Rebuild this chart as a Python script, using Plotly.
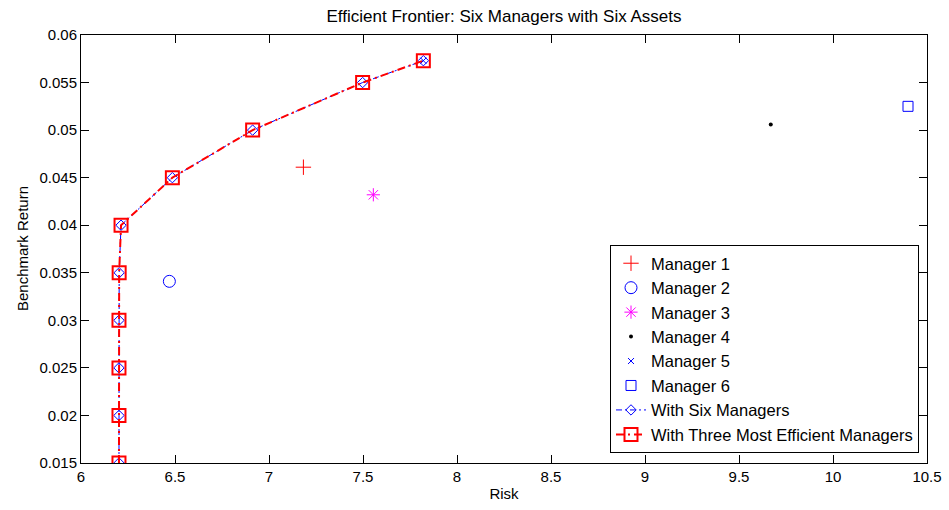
import plotly.graph_objects as go

# Individual managers: (risk, benchmark return)
manager_names = ["Manager 1", "Manager 2", "Manager 3", "Manager 4", "Manager 5", "Manager 6"]
manager_risk = [7.183, 6.470, 7.555, 9.669, 7.821, 10.399]
manager_return = [0.0461, 0.0341, 0.0432, 0.0506, 0.0573, 0.0525]

# Efficient frontier built from all six managers
six_risk = [6.202, 6.202, 6.202, 6.202, 6.203, 6.213, 6.486, 6.913, 7.498, 7.821]
six_return = [0.015, 0.020, 0.025, 0.030, 0.035, 0.040, 0.045, 0.050, 0.055, 0.0573]

# Efficient frontier built from the three most efficient managers
three_risk = [6.202, 6.202, 6.202, 6.202, 6.203, 6.213, 6.486, 6.913, 7.498, 7.821]
three_return = [0.015, 0.020, 0.025, 0.030, 0.035, 0.040, 0.045, 0.050, 0.055, 0.0573]

x_ticks = [6, 6.5, 7, 7.5, 8, 8.5, 9, 9.5, 10, 10.5]
y_ticks = [0.015, 0.02, 0.025, 0.03, 0.035, 0.04, 0.045, 0.05, 0.055, 0.06]

manager_styles = [
    dict(symbol="cross-thin-open", size=11, color="#ff0000", line=dict(width=1, color="#ff0000")),
    dict(symbol="circle-open", size=12, color="#0000ff", line=dict(width=1, color="#0000ff")),
    dict(symbol="asterisk-open", size=11, color="#ff00ff", line=dict(width=1, color="#ff00ff")),
    dict(symbol="circle", size=4, color="#000000", line=dict(width=0)),
    dict(symbol="x-thin-open", size=6, color="#0000ff", line=dict(width=1, color="#0000ff")),
    dict(symbol="square-open", size=10, color="#0000ff", line=dict(width=1, color="#0000ff")),
]

fig = go.Figure()

for i, name in enumerate(manager_names):
    fig.add_trace(go.Scatter(
        x=[manager_risk[i]], y=[manager_return[i]], mode="markers", name=name,
        marker=manager_styles[i], legendgroup=name,
    ))

fig.add_trace(go.Scatter(
    x=six_risk, y=six_return, mode="lines+markers", name="With Six Managers",
    line=dict(color="#0000ff", width=1, dash="6px,3px,2px,3px"),
    marker=dict(symbol="diamond-open", size=8, color="#0000ff", line=dict(width=1, color="#0000ff")),
    legendgroup="six",
))

fig.add_trace(go.Scatter(
    x=three_risk, y=three_return, mode="lines+markers", name="With Three Most Efficient Managers",
    line=dict(color="#ff0000", width=2, dash="8px,4px,2px,4px"),
    marker=dict(symbol="square-open", size=13, color="#ff0000", line=dict(width=2, color="#ff0000")),
    legendgroup="three",
))

font = "Liberation Sans, Arial, Helvetica, sans-serif"
plot_left, plot_right, plot_top, plot_bottom = 81, 927, 35, 463
plot_w = plot_right - plot_left
plot_h = plot_bottom - plot_top

fig.update_layout(
    width=949, height=510,
    margin=dict(l=plot_left, r=949 - plot_right, t=plot_top, b=510 - plot_bottom, autoexpand=False),
    paper_bgcolor="white", plot_bgcolor="white",
    font=dict(family=font, size=15, color="black"),
    title=dict(text="Efficient Frontier: Six Managers with Six Assets", x=0.5, xref="paper",
               xanchor="center", y=1 - 16 / 510, yanchor="middle", font=dict(size=17)),
    showlegend=True,
    legend=dict(x=(919 - plot_left) / plot_w, y=(plot_bottom - 453) / plot_h,
                xanchor="right", yanchor="bottom",
                bgcolor="white", bordercolor="black", borderwidth=1,
                font=dict(size=16.5), tracegroupgap=0, itemwidth=30),
    annotations=[dict(
        text="Benchmark Return", textangle=-90, showarrow=False,
        xref="paper", yref="paper", x=-(plot_left - 22) / plot_w, y=0.5,
        xanchor="center", yanchor="middle", font=dict(size=15),
    )],
)

fig.update_xaxes(
    range=[6, 10.5], tickvals=x_ticks, ticktext=[f"{v:g}" for v in x_ticks],
    showgrid=False, zeroline=False, showline=True, linecolor="black", linewidth=1,
    mirror="allticks", ticks="inside", ticklen=8, tickcolor="black", automargin=False,
    title=dict(text="Risk", standoff=4, font=dict(size=15)),
)
fig.update_yaxes(
    range=[0.015, 0.06], tickvals=y_ticks, ticktext=[f"{v:g}" for v in y_ticks],
    showgrid=False, zeroline=False, showline=True, linecolor="black", linewidth=1,
    mirror="allticks", ticks="inside", ticklen=8, tickcolor="black", automargin=False,
)

fig.write_html("out.html")
